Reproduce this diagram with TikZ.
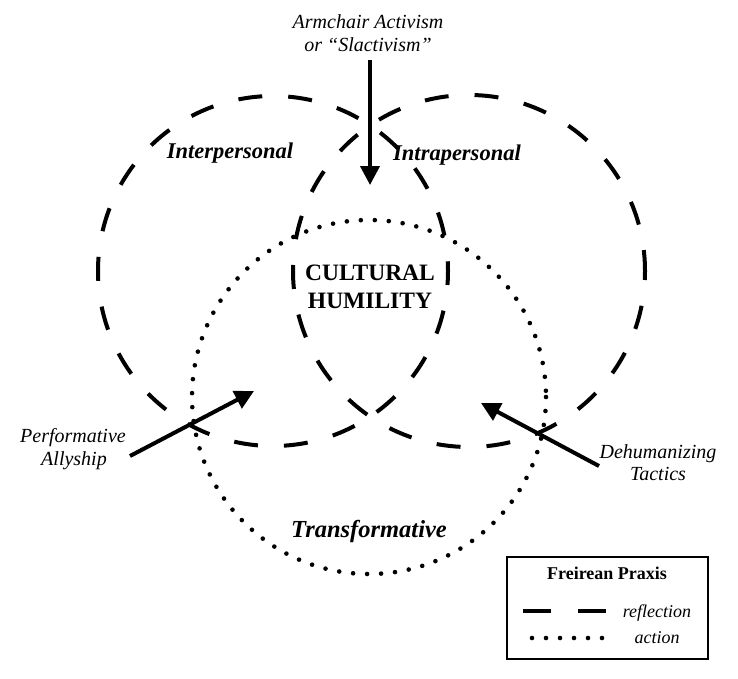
\documentclass[tikz,border=0pt]{standalone}
\usepackage{fontspec}
\setmainfont{Liberation Serif}
\usetikzlibrary{arrows.meta}
\begin{document}
\begin{tikzpicture}[x=1pt,y=-1pt,
  reflect/.style={line width=4pt,dash pattern=on 24pt off 26pt},
  act/.style={line width=4.6pt,line cap=round,dash pattern=on 0pt off 14pt},
  push/.style={line width=4pt,-{Triangle[length=19pt,width=19pt]}},
  lbl/.style={anchor=base,inner sep=0pt,font=\fontsize{20}{23}\selectfont\itshape},
  sphere/.style={anchor=base,inner sep=0pt,font=\fontsize{22.5}{26}\selectfont\bfseries\itshape},
  core/.style={anchor=base,inner sep=0pt,font=\fontsize{23.5}{27}\selectfont\bfseries},
  leg/.style={anchor=base,inner sep=0pt,font=\fontsize{18}{21}\selectfont}]
\useasboundingbox (0,0) rectangle (738,678);
% circles
\draw[reflect,dash phase=10pt] (273,271) circle[radius=175];
\draw[reflect,dash phase=15pt] (469,271) circle[radius=176];
\draw[act] (369,397) circle[radius=177];
% labels
\node[sphere] (inter) at (230,158) {Interpersonal};
\node[sphere] (intra) at (457,160) {Intrapersonal};
\node[sphere,font=\fontsize{24.5}{28}\selectfont\bfseries\itshape] (trans) at (369,537) {Transformative};
\node[core] (cult) at (370,280) {CULTURAL};
\node[core] (hum) at (370,308) {HUMILITY};
\node[lbl] (arm1) at (368,28) {Armchair Activism};
\node[lbl] (arm2) at (368,51) {or “Slactivism”};
\node[lbl] (perf1) at (73,442) {Performative};
\node[lbl] (perf2) at (74,465) {Allyship};
\node[lbl] (dehu1) at (658,458) {Dehumanizing};
\node[lbl] (dehu2) at (658,480) {Tactics};
% arrows
\coordinate (a1s) at (370,60);
\coordinate (a1e) at (370,185);
\coordinate (a2s) at (130,456);
\coordinate (a2e) at (254,391);
\coordinate (a3s) at (599,466);
\coordinate (a3e) at (481,403);
\draw[push] (a1s) -- (a1e);
\draw[push] (a2s) -- (a2e);
\draw[push] (a3s) -- (a3e);
% legend
\node[draw,line width=2pt,minimum width=201pt,minimum height=102pt,inner sep=0pt] (legbox) at (607.5,608) {};
\node[leg,font=\fontsize{18}{21}\selectfont\bfseries] (legt) at (607,579) {Freirean Praxis};
\coordinate (r1) at (523,611);
\coordinate (r2) at (606,611);
\coordinate (d1) at (532,638);
\coordinate (d2) at (603,638);
\draw[line width=4pt,dash pattern=on 28pt off 27pt] (r1) -- (r2);
\draw[act] (d1) -- (d2);
\node[leg,font=\fontsize{18}{21}\selectfont\itshape] (legr) at (657,617) {reflection};
\node[leg,font=\fontsize{18}{21}\selectfont\itshape] (lega) at (657,643) {action};
\end{tikzpicture}
\end{document}
